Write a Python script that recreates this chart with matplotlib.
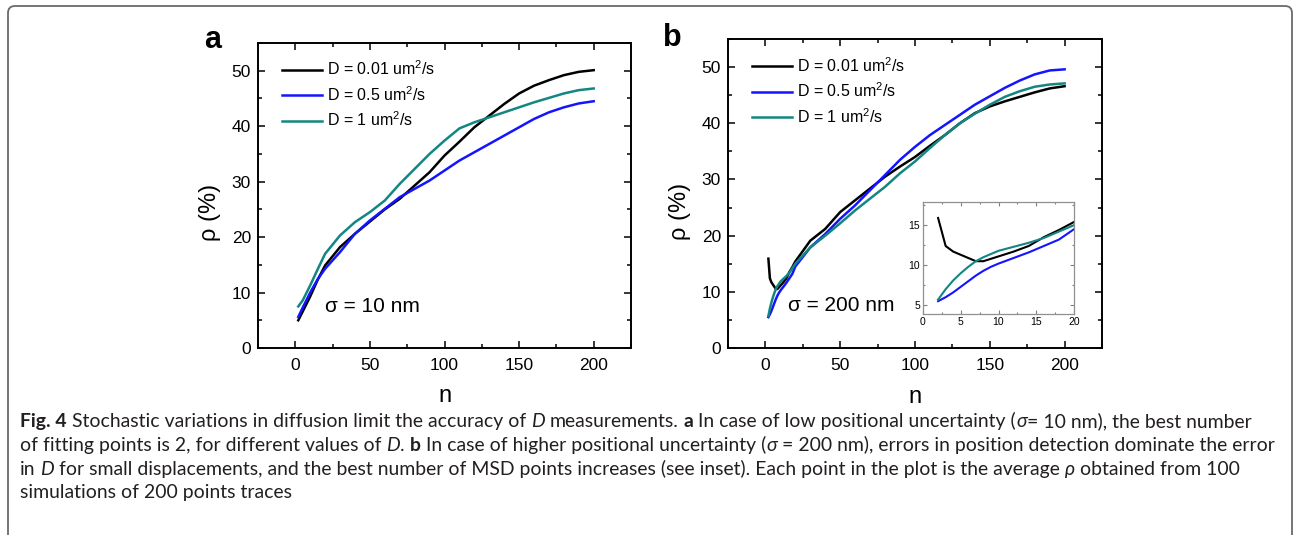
import numpy as np
import matplotlib
matplotlib.use("Agg")
import matplotlib.pyplot as plt
from matplotlib.patches import FancyBboxPatch
from matplotlib.ticker import MultipleLocator
from matplotlib.transforms import IdentityTransform

plt.rcParams['font.family'] = ['Liberation Sans', 'DejaVu Sans']
plt.rcParams['mathtext.fontset'] = 'custom'
plt.rcParams['mathtext.rm'] = 'Liberation Sans'
plt.rcParams['mathtext.it'] = 'Liberation Sans:italic'

# ---- data ----
labels = ["D = 0.01 um$^2$/s", "D = 0.5 um$^2$/s", "D = 1 um$^2$/s"]
colors = ["black", "#1414ff", "#138683"]

# panel a, sigma = 10 nm
n_a = [2, 5, 10, 15, 20, 30, 40, 50, 60, 70, 80, 90, 100, 110, 120, 130, 140,
       150, 160, 170, 180, 190, 200]
a_d001 = [5.0, 6.6, 9.3, 12.3, 14.9, 18.2, 20.6, 22.8, 25.0, 26.9, 29.3, 31.7,
          34.7, 37.2, 39.8, 41.9, 44.0, 45.9, 47.3, 48.3, 49.2, 49.8, 50.1]
a_d05 = [5.6, 7.3, 10.0, 12.4, 14.3, 17.3, 20.6, 23.0, 25.1, 27.2, 28.7, 30.2,
         32.0, 33.8, 35.3, 36.8, 38.3, 39.8, 41.3, 42.5, 43.4, 44.1, 44.5]
a_d1 = [7.5, 8.6, 11.3, 14.2, 17.0, 20.3, 22.7, 24.5, 26.6, 29.6, 32.3, 35.0,
        37.4, 39.6, 40.7, 41.6, 42.5, 43.4, 44.3, 45.1, 45.9, 46.5, 46.8]

# panel b, sigma = 200 nm
n_b = [2, 3, 4, 5, 6, 7, 8, 9, 10, 12, 14, 16, 18, 20, 30, 40, 50, 60, 70, 80,
       90, 100, 110, 120, 130, 140, 150, 160, 170, 180, 190, 200]
b_d001 = [15.9, 12.4, 11.7, 11.3, 10.9, 10.5, 10.5, 10.8, 11.1, 11.7, 12.4,
          13.5, 14.4, 15.4, 19.1, 21.2, 24.2, 26.3, 28.4, 30.5, 32.3, 34.0,
          36.0, 37.9, 40.0, 41.8, 43.0, 43.9, 44.7, 45.5, 46.2, 46.6]
b_d05 = [5.5, 6.0, 6.6, 7.3, 8.0, 8.7, 9.3, 9.8, 10.2, 10.9, 11.6, 12.4, 13.2,
         14.5, 17.9, 20.3, 23.0, 25.4, 28.1, 30.8, 33.5, 35.8, 37.9, 39.7,
         41.5, 43.3, 44.8, 46.3, 47.6, 48.7, 49.4, 49.6]
b_d1 = [5.7, 7.0, 8.1, 9.0, 9.8, 10.5, 11.0, 11.4, 11.8, 12.3, 12.8, 13.4,
        14.2, 15.0, 17.9, 20.0, 22.2, 24.5, 26.6, 28.7, 31.1, 33.2, 35.6, 37.9,
        40.0, 41.7, 43.3, 44.7, 45.7, 46.5, 46.9, 47.1]

W, H = 1294, 535
fig = plt.figure(figsize=(W / 100, H / 100), dpi=100)


def px_axes(left, top, right, bottom):
    return fig.add_axes([left / W, 1 - bottom / H, (right - left) / W, (bottom - top) / H])


def style_main(ax):
    ax.set_xlim(-25, 225)
    ax.set_ylim(0, 55)
    ax.xaxis.set_major_locator(MultipleLocator(50))
    ax.xaxis.set_minor_locator(MultipleLocator(25))
    ax.yaxis.set_major_locator(MultipleLocator(10))
    ax.yaxis.set_minor_locator(MultipleLocator(5))
    ax.tick_params(which='both', direction='in', top=True, right=True, width=1.1)
    ax.tick_params(which='major', length=5, labelsize=12.5)
    ax.tick_params(which='minor', length=3)
    ax.tick_params(axis='x', pad=7)
    ax.tick_params(axis='y', pad=5)
    for sp in ax.spines.values():
        sp.set_linewidth(1.4)


panels = [
    (px_axes(258, 43, 631, 348), n_a, [a_d001, a_d05, a_d1], "a", (213, 40), "σ = 10 nm", 20),
    (px_axes(728, 39, 1102, 348), n_b, [b_d001, b_d05, b_d1], "b", (672, 38), "σ = 200 nm", 15),
]

for ax, n, series, letter, lpos, note, note_x in panels:
    for y, c, lab in zip(series, colors, labels):
        ax.plot(n, y, color=c, lw=1.8, label=lab)
    style_main(ax)
    ax.set_xlabel("n", fontsize=17)
    ax.xaxis.set_label_coords(0.5, -48 / 305)
    ax.xaxis.label.set_verticalalignment('center')
    ax.set_ylabel("ρ (%)", fontsize=17)
    ax.yaxis.set_label_coords(-0.129, 0.443)
    ax.yaxis.label.set_verticalalignment('center')
    ax.legend(loc='upper left', bbox_to_anchor=(0.064, 0.945), frameon=False,
              fontsize=11.5, handlelength=2.5, handletextpad=0.3,
              labelspacing=0.42, borderpad=0, borderaxespad=0)
    ax.text(note_x, 7.5, note, fontsize=15, ha='left', va='center')
    fig.text(lpos[0] / W, 1 - lpos[1] / H, letter, fontsize=22, fontweight='bold',
             ha='center', va='center')

# inset of panel b
ins = px_axes(923, 202, 1074, 314)
for y, c in zip([b_d001, b_d05, b_d1], colors):
    ins.plot(n_b[:14], y[:14], color=c, lw=1.5)
ins.set_xlim(0, 20)
ins.set_ylim(3.9, 17.9)
ins.xaxis.set_major_locator(MultipleLocator(5))
ins.xaxis.set_minor_locator(MultipleLocator(2.5))
ins.yaxis.set_major_locator(MultipleLocator(5))
ins.yaxis.set_minor_locator(MultipleLocator(2.5))
ins.tick_params(which='both', direction='in', top=True, right=True, color='#808080',
                width=0.8, labelsize=7.5, pad=2)
ins.tick_params(which='major', length=3)
ins.tick_params(which='minor', length=1.5)
for sp in ins.spines.values():
    sp.set_color('#909090')
    sp.set_linewidth(0.9)

# rounded frame around figure
frame = FancyBboxPatch((8, -20), 1284, 535 - 6 + 20,
                       boxstyle="round,pad=0,rounding_size=7",
                       transform=IdentityTransform(), fill=False,
                       edgecolor='#6a6a6a', lw=1.3)
fig.patches.append(frame)

# caption with mixed styles
cap_font = ['Lato', 'DejaVu Sans']
cap_color = '#231f20'
caption = [
    [("Fig. 4 ", 'bold', 'normal'),
     ("Stochastic variations in diffusion limit the accuracy of ", 'normal', 'normal'),
     ("D ", 'normal', 'italic'),
     ("measurements. ", 'normal', 'normal'),
     ("a ", 'bold', 'normal'),
     ("In case of low positional uncertainty (", 'normal', 'normal'),
     ("σ", 'normal', 'italic'),
     ("= 10 nm), the best number", 'normal', 'normal')],
    [("of fitting points is 2, for different values of ", 'normal', 'normal'),
     ("D", 'normal', 'italic'),
     (". ", 'normal', 'normal'),
     ("b ", 'bold', 'normal'),
     ("In case of higher positional uncertainty (", 'normal', 'normal'),
     ("σ ", 'normal', 'italic'),
     ("= 200 nm), errors in position detection dominate the error", 'normal', 'normal')],
    [("in ", 'normal', 'normal'),
     ("D ", 'normal', 'italic'),
     ("for small displacements, and the best number of MSD points increases (see inset). "
      "Each point in the plot is the average ", 'normal', 'normal'),
     ("ρ ", 'normal', 'italic'),
     ("obtained from 100", 'normal', 'normal')],
    [("simulations of 200 points traces", 'normal', 'normal')],
]
baselines = [427, 451, 475, 498]
line_ends = [1276, 1274, None, None]

renderer = fig.canvas.get_renderer()


def space_width(size):
    kw = dict(fontsize=size, family=cap_font)
    t1 = fig.text(0, 0, '| |', **kw)
    t2 = fig.text(0, 0, '||', **kw)
    w = t1.get_window_extent(renderer).width - t2.get_window_extent(renderer).width
    t1.remove()
    t2.remove()
    return w


def draw_line(segs, x0, yb, size, keep=True):
    sp = space_width(size)
    x = x0
    drawn = []
    for s, wt, st in segs:
        t = fig.text(x / W, 1 - yb / H, s.rstrip(), fontsize=size, fontweight=wt,
                     fontstyle=st, family=cap_font, color=cap_color,
                     ha='left', va='baseline')
        x = t.get_window_extent(renderer).x1 + sp * (len(s) - len(s.rstrip()))
        drawn.append(t)
    if not keep:
        for t in drawn:
            t.remove()
    return x


base_size = 10
ratios = []
for segs, end in zip(caption, line_ends):
    if end:
        w = draw_line(segs, 20, 0, base_size, keep=False) - 20
        ratios.append((end - 20) / w)
cap_size = base_size * min(ratios)

for segs, yb in zip(caption, baselines):
    draw_line(segs, 20, yb, cap_size)

fig.savefig("out.png", dpi=100)
